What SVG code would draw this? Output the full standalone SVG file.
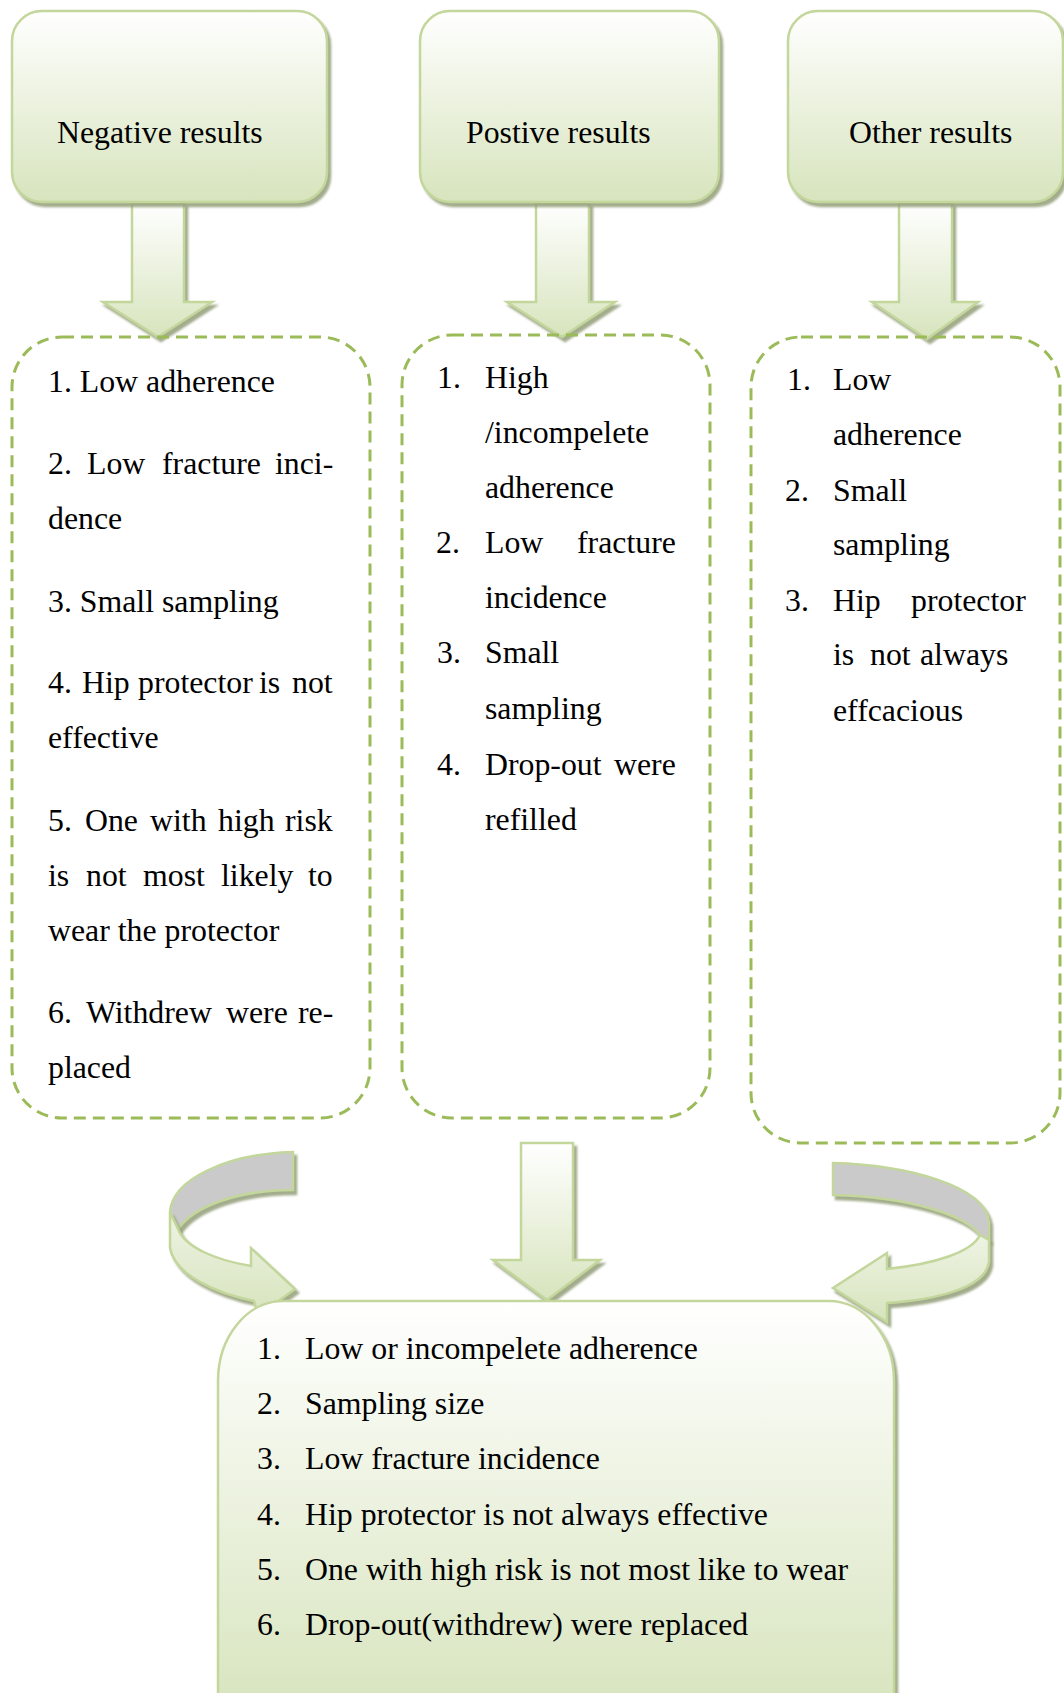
<svg xmlns="http://www.w3.org/2000/svg" width="1064" height="1693" viewBox="0 0 1064 1693">
<defs>
  <linearGradient id="gBox" x1="0" y1="0" x2="0" y2="1">
    <stop offset="0" stop-color="#FFFFFF"/>
    <stop offset="1" stop-color="#D7E4BD"/>
  </linearGradient>
  <linearGradient id="gBottom" gradientUnits="userSpaceOnUse" x1="0" y1="1301" x2="0" y2="1720">
    <stop offset="0" stop-color="#FFFFFF"/>
    <stop offset="1" stop-color="#D7E4BD"/>
  </linearGradient>
  <linearGradient id="gFront" x1="0" y1="0" x2="0" y2="1">
    <stop offset="0" stop-color="#EEF3E4"/>
    <stop offset="1" stop-color="#D7E4BD"/>
  </linearGradient>
  <filter id="sh" x="-10%" y="-10%" width="130%" height="130%">
    <feGaussianBlur in="SourceAlpha" stdDeviation="1.2"/>
    <feOffset dx="3" dy="4" result="o"/>
    <feFlood flood-color="#939E78" flood-opacity="0.85"/>
    <feComposite in2="o" operator="in"/>
    <feMerge><feMergeNode/><feMergeNode in="SourceGraphic"/></feMerge>
  </filter>
</defs>
<style>
  .box { fill: url(#gBox); stroke: #C3D69B; stroke-width: 2.5; filter: url(#sh); }
  .dash { fill: none; stroke: #9BBB59; stroke-width: 3; stroke-dasharray: 12 7; }
  .arr { fill: url(#gBox); stroke: #C3D69B; stroke-width: 2.5; filter: url(#sh); }
  .back { fill: #CACACA; stroke: #C3D69B; stroke-width: 2.5; filter: url(#sh); }
  .front { fill: url(#gFront); stroke: #C3D69B; stroke-width: 2.5; filter: url(#sh); }
  text { font-family: "Liberation Serif", "Times New Roman", serif; font-size: 31.8px; fill: #000; }
</style>
<rect width="1064" height="1693" fill="#FFFFFF"/>

<g id="connectors">
  <path class="arr" d="M132,203 L184,203 L184,302 L212,302 L158,337 L103,302 L132,302 Z"/>
  <path class="arr" d="M536,203 L589,203 L589,302 L615,302 L562,337 L507,302 L536,302 Z"/>
  <path class="arr" d="M899,203 L952,203 L952,302 L978,302 L927,339 L872,302 L899,302 Z"/>
  <path class="arr" d="M521,1143 L573,1143 L573,1260 L600,1260 L547,1300 L493,1260 L521,1260 Z"/>
  <g id="curve-left">
    <path class="back" d="M293,1152 C225,1154 172,1180 170,1212 L178,1229 C195,1205 240,1190 293,1190 Z"/>
    <path class="front" d="M170,1212 L170,1248 C175,1275 215,1293 254,1301 L258,1316 L295,1289 L251,1248 L251,1266 C215,1260 185,1247 178,1229 Z"/>
  </g>
  <g id="curve-right">
    <path class="back" d="M833,1163 C905,1165 985,1185 989,1222 L989,1240 L980,1235 C965,1215 910,1197 833,1195 Z"/>
    <path class="front" d="M980,1235 L989,1240 L989,1262 C985,1290 930,1300 887,1303 L887,1322 L833,1288 L887,1253 L887,1269 C935,1264 972,1252 980,1235 Z"/>
  </g>
</g>

<g id="node-negative">
  <rect class="box" x="12" y="11" width="315" height="191" rx="30"/>
  <text x="57" y="143" font-size="32">Negative results</text>
</g>
<g id="node-positive">
  <rect class="box" x="420" y="11" width="299" height="191" rx="30"/>
  <text x="466" y="143" font-size="32">Postive results</text>
</g>
<g id="node-other">
  <rect class="box" x="788" y="11" width="275" height="191" rx="30"/>
  <text x="849" y="143" font-size="32">Other results</text>
</g>

<g id="list-negative">
  <rect class="dash" x="12" y="337" width="358" height="781" rx="50"/>
  <text x="48" y="392">1. Low adherence</text>
  <text y="474"><tspan x="48">2.</tspan><tspan x="87">Low</tspan><tspan x="162">fracture</tspan><tspan x="275">inci-</tspan></text>
  <text x="48" y="529">dence</text>
  <text x="48" y="612">3. Small sampling</text>
  <text y="693"><tspan x="48">4.</tspan><tspan x="82">Hip</tspan><tspan x="138">protector</tspan><tspan x="259">is</tspan><tspan x="292">not</tspan></text>
  <text x="48" y="748">effective</text>
  <text y="831"><tspan x="48">5.</tspan><tspan x="85">One</tspan><tspan x="150">with</tspan><tspan x="218">high</tspan><tspan x="285">risk</tspan></text>
  <text y="886"><tspan x="48">is</tspan><tspan x="86">not</tspan><tspan x="143">most</tspan><tspan x="221">likely</tspan><tspan x="308">to</tspan></text>
  <text x="48" y="941">wear the protector</text>
  <text y="1023"><tspan x="48">6.</tspan><tspan x="86">Withdrew</tspan><tspan x="226">were</tspan><tspan x="298">re-</tspan></text>
  <text x="48" y="1078">placed</text>
</g>

<g id="list-positive">
  <rect class="dash" x="402" y="335" width="308" height="783" rx="50"/>
  <text x="437" y="388">1.</text><text x="485" y="388">High</text>
  <text x="485" y="443">/incompelete</text>
  <text x="485" y="498">adherence</text>
  <text x="436" y="553">2.</text><text y="553"><tspan x="485">Low</tspan><tspan x="577">fracture</tspan></text>
  <text x="485" y="608">incidence</text>
  <text x="437" y="663">3.</text><text x="485" y="663">Small</text>
  <text x="485" y="719">sampling</text>
  <text x="437" y="775">4.</text><text y="775"><tspan x="485">Drop-out</tspan><tspan x="614">were</tspan></text>
  <text x="485" y="830">refilled</text>
</g>

<g id="list-other">
  <rect class="dash" x="751" y="337" width="309" height="806" rx="50"/>
  <text x="787" y="390">1.</text><text x="833" y="390">Low</text>
  <text x="833" y="445">adherence</text>
  <text x="785" y="501">2.</text><text x="833" y="501">Small</text>
  <text x="833" y="555">sampling</text>
  <text x="785" y="611">3.</text><text y="611"><tspan x="833">Hip</tspan><tspan x="911">protector</tspan></text>
  <text y="665"><tspan x="833">is</tspan><tspan x="870">not</tspan><tspan x="920">always</tspan></text>
  <text x="833" y="721">effcacious</text>
</g>

<g id="node-summary">
  <rect x="218" y="1301" width="676" height="480" rx="65" ry="80" fill="url(#gBottom)" stroke="#C3D69B" stroke-width="2.5" filter="url(#sh)"/>
  <text x="257" y="1359">1.</text><text x="305" y="1359">Low or incompelete adherence</text>
  <text x="257" y="1414">2.</text><text x="305" y="1414">Sampling size</text>
  <text x="257" y="1469">3.</text><text x="305" y="1469">Low fracture incidence</text>
  <text x="257" y="1525">4.</text><text x="305" y="1525">Hip protector is not always effective</text>
  <text x="257" y="1580">5.</text><text x="305" y="1580">One with high risk is not most like to wear</text>
  <text x="257" y="1635">6.</text><text x="305" y="1635">Drop-out(withdrew) were replaced</text>
</g>
</svg>
